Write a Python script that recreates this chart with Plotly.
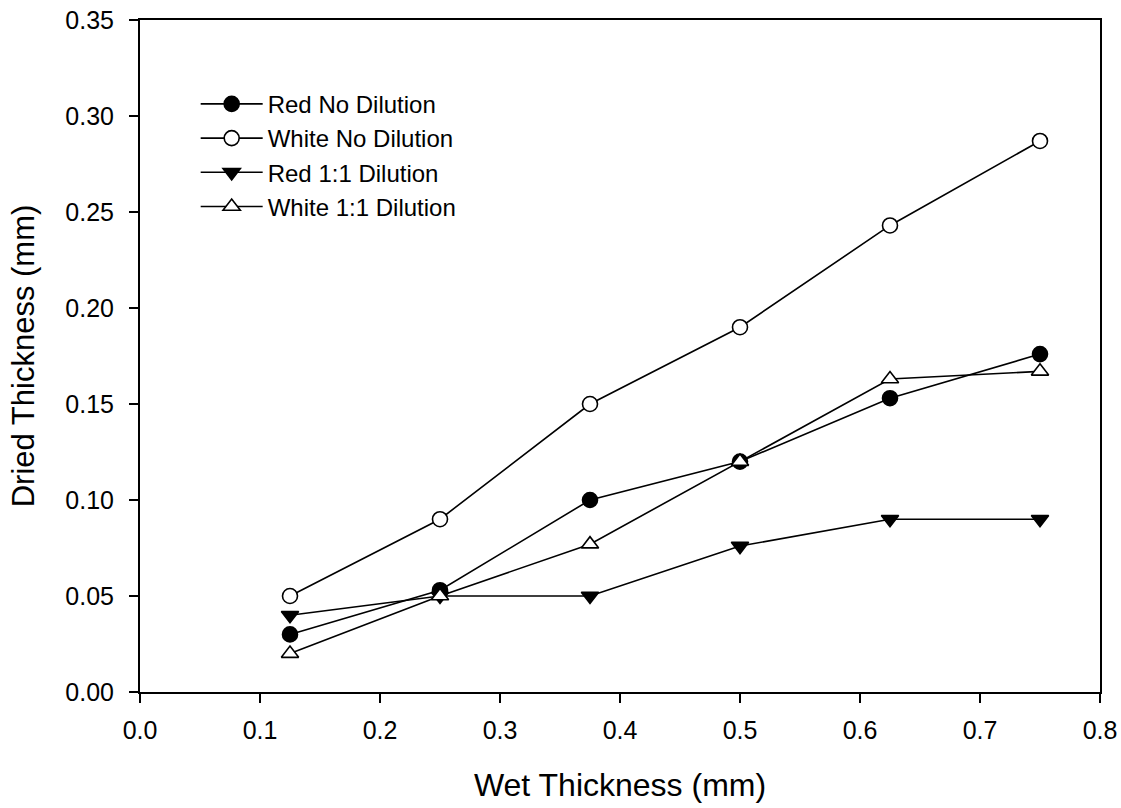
import plotly.graph_objects as go

wet = [0.125, 0.25, 0.375, 0.5, 0.625, 0.75]
red_no = [0.030, 0.053, 0.100, 0.120, 0.153, 0.176]
white_no = [0.050, 0.090, 0.150, 0.190, 0.243, 0.287]
red_11 = [0.040, 0.050, 0.050, 0.076, 0.090, 0.090]
white_11 = [0.020, 0.050, 0.077, 0.120, 0.163, 0.167]

names = ["Red No Dilution", "White No Dilution", "Red 1:1 Dilution", "White 1:1 Dilution"]
series = [red_no, white_no, red_11, white_11]
symbols = ["circle", "circle", "triangle-down", "triangle-up"]
fills = ["black", "white", "black", "white"]

fig = go.Figure()
for n, ys, sym, fc in zip(names, series, symbols, fills):
    fig.add_trace(go.Scatter(
        x=wet, y=ys, name=n, mode="lines+markers",
        line=dict(color="black", width=1.6),
        marker=dict(symbol=sym, size=15, color=fc, line=dict(color="black", width=1.6)),
    ))

font = "Liberation Sans, Arial, sans-serif"
fig.update_layout(
    width=1121, height=808,
    margin=dict(l=140, r=21, t=20, b=116),
    paper_bgcolor="white", plot_bgcolor="white",
    font=dict(family=font, color="black", size=24),
    showlegend=True,
    legend=dict(x=0.058, y=0.908, xanchor="left", yanchor="top",
                bgcolor="rgba(0,0,0,0)", font=dict(size=24, family=font),
                itemwidth=62, tracegroupgap=0),
    xaxis=dict(range=[0, 0.8], tickvals=[0, 0.1, 0.2, 0.3, 0.4, 0.5, 0.6, 0.7, 0.8],
               tickformat=".1f", showgrid=False, zeroline=False, automargin=False,
               showline=True, linecolor="black", linewidth=2, mirror=True,
               ticks="outside", ticklen=9, tickwidth=2, tickcolor="black",
               ticklabelstandoff=6,
               title=dict(text="Wet Thickness (mm)", font=dict(size=32), standoff=31),
               tickfont=dict(size=25)),
    yaxis=dict(range=[0, 0.35], tickvals=[0, 0.05, 0.1, 0.15, 0.2, 0.25, 0.3, 0.35],
               tickformat=".2f", showgrid=False, zeroline=False, automargin=False,
               showline=True, linecolor="black", linewidth=2, mirror=True,
               ticks="outside", ticklen=9, tickwidth=2, tickcolor="black",
               ticklabelstandoff=10,
               title=dict(text="Dried Thickness (mm)", font=dict(size=31), standoff=21),
               tickfont=dict(size=25)),
)

fig.write_html("out.html")
